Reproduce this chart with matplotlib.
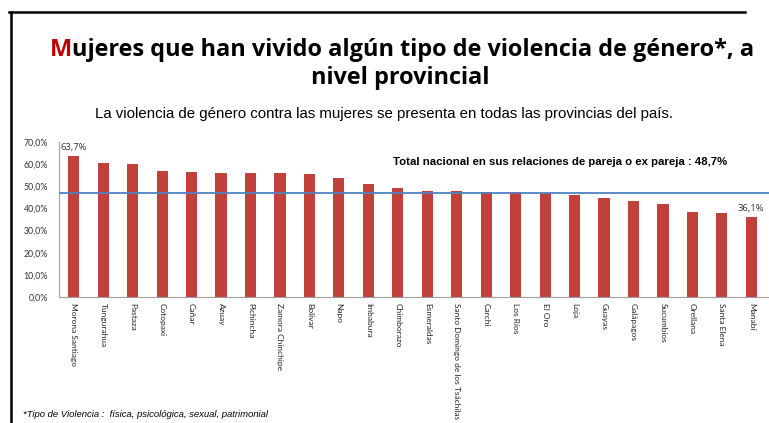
import matplotlib
matplotlib.use("Agg")
import matplotlib.pyplot as plt
from matplotlib.lines import Line2D

provincias = ["Morona Santiago", "Tungurahua", "Pastaza", "Cotopaxi", "Cañar", "Azuay",
              "Pichincha", "Zamora Chinchipe", "Bolívar", "Napo", "Imbabura", "Chimborazo",
              "Esmeraldas", "Santo Domingo de los Tsáchilas", "Carchi", "Los Ríos", "El Oro",
              "Loja", "Guayas", "Galápagos", "Sucumbíos", "Orellana", "Santa Elena", "Manabí"]
valores = [63.7, 60.5, 59.9, 57.0, 56.4, 55.9, 55.8, 55.8, 55.4, 53.7, 51.1, 49.4,
           48.0, 47.8, 47.6, 47.2, 46.9, 46.0, 44.5, 43.2, 41.9, 38.6, 37.8, 36.1]
linea_nacional = 47.0
yticks = [0, 10, 20, 30, 40, 50, 60, 70]
ytick_labels = ["0,0%", "10,0%", "20,0%", "30,0%", "40,0%", "50,0%", "60,0%", "70,0%"]

W, H = 769, 423
fig = plt.figure(figsize=(W / 100, H / 100), dpi=100)
fig.patch.set_facecolor("white")

def fx(px):
    return px / W

def fy(py):
    return 1 - py / H

ax = fig.add_axes([fx(59), fy(297), fx(769) - fx(59), fy(142) - fy(297)])
x = list(range(len(provincias)))
ax.bar(x, valores, width=0.38, color="#C0403A", zorder=2)
ax.axhline(linea_nacional, color="#4F81BD", lw=1.3, zorder=3)
ax.set_xlim(-0.5, 23.6)
ax.set_ylim(0, 70)
ax.set_yticks(yticks)
ax.set_yticklabels(ytick_labels, fontsize=6.3, color="#333333", family="Lato")
ax.set_xticks(x)
ax.set_xticklabels(provincias, rotation=-90, fontsize=6.0, color="#222222",
                   family="Lato", va="top", ha="center")
ax.tick_params(axis="both", length=0, pad=4)
ax.tick_params(axis="y", pad=8)
for s in ["top", "right"]:
    ax.spines[s].set_visible(False)
ax.spines["left"].set_color("#A0A0A0")
ax.spines["bottom"].set_color("#A0A0A0")
ax.patch.set_alpha(0)

ax.annotate("63,7%", (0, valores[0]), xytext=(0, 3), textcoords="offset points",
            ha="center", va="bottom", fontsize=6.8, color="#333333", family="Open Sans")
ax.annotate("36,1%", (23, valores[-1]), xytext=(0, 3), textcoords="offset points",
            ha="center", va="bottom", fontsize=6.8, color="#333333", family="Open Sans")

fig.text(fx(393), fy(162), "Total nacional en sus relaciones de pareja o ex pareja : 48,7%",
         fontsize=8.2, fontweight="bold", family="Liberation Sans", va="center", ha="left")

# Titles
tm = fig.text(fx(50), fy(56), "M", fontsize=16.9, fontweight="bold", color="#C00000",
              family="Open Sans", ha="left", va="baseline")
fig.canvas.draw()
r = fig.canvas.get_renderer()
bb = tm.get_window_extent(r)
fig.text(bb.x1 / W, fy(56), "ujeres que han vivido algún tipo de violencia de género*, a",
         fontsize=16.9, fontweight="bold", family="Open Sans", ha="left", va="baseline")
fig.text(fx(400), fy(84), "nivel provincial", fontsize=16.9, fontweight="bold",
         family="Open Sans", ha="center", va="baseline")

fig.text(fx(384), fy(114), "La violencia de género contra las mujeres se presenta en todas las provincias del país.",
         fontsize=10.8, family="Liberation Sans", ha="center", va="center")

fig.text(fx(23), fy(414), "*Tipo de Violencia :  física, psicológica, sexual, patrimonial",
         fontsize=6.8, style="italic", family="Liberation Sans", ha="left", va="center")

# Slide border
fig.add_artist(Line2D([fx(9), fx(745)], [fy(12), fy(12)], color="black", lw=1.8))
fig.add_artist(Line2D([fx(11), fx(11)], [fy(12), fy(423)], color="black", lw=1.8))

fig.savefig("out.png", dpi=100)
